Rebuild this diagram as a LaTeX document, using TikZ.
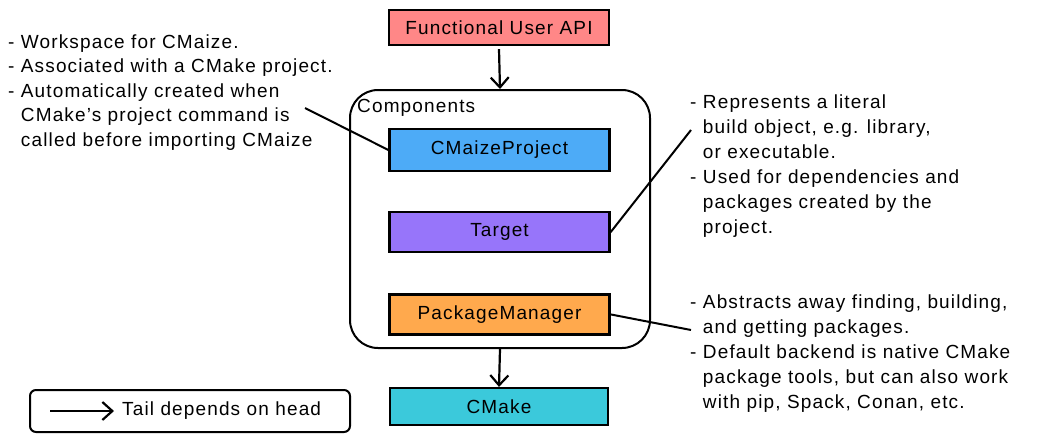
\documentclass[tikz,border=0pt]{standalone}
\usepackage{fontspec}
\setmainfont{Liberation Sans}[LetterSpace=6]
\usetikzlibrary{arrows.meta,positioning}
\definecolor{apicolor}{HTML}{FF8787}
\definecolor{projcolor}{HTML}{4DABF7}
\definecolor{targcolor}{HTML}{9775FA}
\definecolor{pkgcolor}{HTML}{FFA94D}
\definecolor{cmakecolor}{HTML}{3BC9DB}

\begin{document}
\begin{tikzpicture}[
  x=1pt,y=-1pt,
  box/.style={rectangle,draw,line width=2.2pt,minimum width=220pt,minimum height=40pt,font=\fontsize{19}{25}\selectfont},
  arr/.style={-{Straight Barb[length=10pt,width=18pt]},line width=2.2pt},
  link/.style={line width=2pt},
  note/.style={align=left,inner sep=0pt,anchor=base west,font=\fontsize{19}{24.5}\selectfont}
]
\useasboundingbox (0,0) rectangle (1049,440);

% components stack
\node[box,fill=apicolor,minimum height=35pt] (api) at (499,27.5) {Functional User API};
\node[draw,line width=2pt,rounded corners=28pt,minimum width=300pt,minimum height=258pt] (comp) at (500,219) {};
\node[anchor=base west,inner sep=0pt,font=\fontsize{19}{25}\selectfont] (complbl) at (357,112) {Components};
\node[box,fill=projcolor,minimum height=42pt] (proj) at (499.5,150) {CMaizeProject};
\node[box,fill=targcolor,below=39pt of proj] (targ) {Target};
\node[box,fill=pkgcolor,below=40pt of targ] (pkg) {PackageManager};
\node[box,fill=cmakecolor,minimum height=37pt,minimum width=218pt] (cmake) at (499,406.5) {CMake};

\draw[arr] ([yshift=-3pt]api.south) -- (comp.north);
\draw[arr] (comp.south) -- (cmake.north);

% notes (anchored on the last line)
\node[note] (projnote) at (8,146) {- Workspace for CMaize.\\
- Associated with a CMake project.\\
- Automatically created when\\
\phantom{- }CMake's project command is\\
\phantom{- }called before importing CMaize};
\node[note,font=\fontsize{19}{25}\selectfont] (targnote) at (690,233) {- Represents a literal\\
\phantom{- }build object, e.g. library,\\
\phantom{- }or executable.\\
- Used for dependencies and\\
\phantom{- }packages created by the\\
\phantom{- }project.};
\node[note,font=\fontsize{19}{25}\selectfont] (pkgnote) at (690,408) {- Abstracts away finding, building,\\
\phantom{- }and getting packages.\\
- Default backend is native CMake\\
\phantom{- }package tools, but can also work\\
\phantom{- }with pip, Spack, Conan, etc.};

\coordinate (projend) at (305,108);
\coordinate (targend) at (691,130);
\coordinate (pkgend) at (691,330);
\draw[link] (projend) -- (proj.west);
\draw[link] (targ.east) -- (targend);
\draw[link] (pkg.east) -- (pkgend);

% legend
\node[draw,line width=2pt,rounded corners=6pt,minimum width=320pt,minimum height=42pt] (key) at (190,411) {};
\node[anchor=west,inner sep=0pt,font=\fontsize{19}{25}\selectfont] (keytext) at (122,411) {Tail depends on head};
\coordinate (keytail) at (50,411);
\draw[arr] (keytail) -- ([xshift=-8pt]keytext.west);
\end{tikzpicture}
\end{document}
